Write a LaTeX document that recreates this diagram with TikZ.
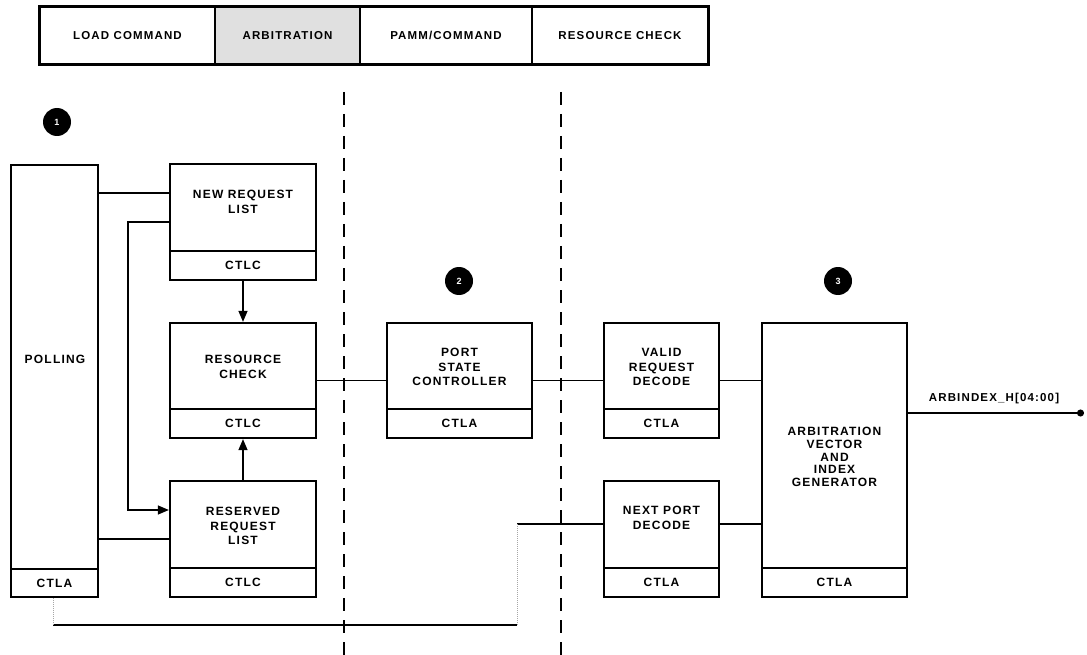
\documentclass[tikz,border=0pt]{standalone}
\usepackage{fontspec}
\setmainfont{Liberation Sans}[LetterSpace=10, UprightFont=* Bold]
\usetikzlibrary{arrows.meta,calc}
\newcommand\mkbox[6]{%
  \node[blk, minimum width={#4-#2}, minimum height={#5-#3}] (#1) at ({(#2+#4)/2},{(#3+#5)/2}) {};
  \draw[divl] (#2,#6) -- (#4,#6);
  \node[lbl] (#1ctl) at ({(#2+#4)/2},{(#6+#5)/2}) {\ctlname};}
\begin{document}
\begin{tikzpicture}[x=1pt,y=-1pt,
  blk/.style={draw, line width=2.3pt, inner sep=0pt},
  divl/.style={line width=2pt},
  lbl/.style={font=\fontsize{12}{14.5}\selectfont, align=center, inner sep=0pt},
  cell/.style={draw, line width=1.4pt, inner sep=0pt, minimum height=57, font=\fontsize{11.5}{13}\selectfont},
  wire/.style={line width=1.3pt},
  arr/.style={wire, -{Triangle[length=11pt,width=9pt]}},
  faint/.style={line width=1pt, gray!70, densely dotted},
  sep/.style={line width=2pt, dash pattern=on 13pt off 9pt},
  num/.style={circle, fill=black, minimum size=28, inner sep=0pt, text=white, font=\fontsize{9}{9}\selectfont}]
\useasboundingbox (0,0) rectangle (1087,655);

% top bar
\node[cell, minimum width=175] (c1) at (127.5,35.5) {LOAD COMMAND};
\node[cell, minimum width=145, fill=black!12] (c2) at (287.5,35.5) {ARBITRATION};
\node[cell, minimum width=172] (c3) at (446,35.5) {PAMM/COMMAND};
\node[cell, minimum width=176] (c4) at (620,35.5) {RESOURCE CHECK};
\draw[line width=2.5pt] (c1.north west) rectangle (c4.south east);

% separators
\draw[sep] (344,92) -- (344,655);
\draw[sep] (561,92) -- (561,655);

% numbers
\node[num] (n1) at (57,122) {1};
\node[num] (n2) at (459,281) {2};
\node[num] (n3) at (838,281) {3};

% boxes
\def\ctlname{CTLA}
\mkbox{poll}{11}{165}{98}{597}{569}
\def\ctlname{CTLC}
\mkbox{nrl}{170}{164}{316}{280}{251}
\mkbox{rc}{170}{323}{316}{438}{409}
\mkbox{rrl}{170}{481}{316}{597}{568}
\def\ctlname{CTLA}
\mkbox{psc}{387}{323}{532}{438}{409}
\mkbox{vrd}{604}{323}{719}{438}{409}
\mkbox{npd}{604}{481}{719}{597}{568}
\mkbox{arb}{762}{323}{907}{597}{568}

% texts
\node[lbl] (tpoll) at (55,359) {POLLING};
\node[lbl] (tnrl) at (243,202) {NEW REQUEST\\LIST};
\node[lbl] (trc) at (243,367) {RESOURCE\\CHECK};
\node[lbl] (trrl) at (243,526) {RESERVED\\REQUEST\\LIST};
\node[lbl] (tpsc) at (459.5,367) {PORT\\STATE\\CONTROLLER};
\node[lbl] (tvrd) at (661.5,367) {VALID\\REQUEST\\DECODE};
\node[lbl] (tnpd) at (661.5,518) {NEXT PORT\\DECODE};
\node[lbl, font=\fontsize{12}{12.8}\selectfont] (tarb) at (834.5,457) {ARBITRATION\\VECTOR\\AND\\INDEX\\GENERATOR};

% connectors
\coordinate (k1) at (128,222);
\coordinate (k2) at (128,510);
\draw[wire] (poll.east |- 0,193) -- (nrl.west |- 0,193);
\draw[arr] (nrl.west |- k1) -- (k1) -- (k2) -- (rrl.west |- k2);
\draw[wire] (poll.east |- 0,539) -- (rrl.west |- 0,539);
\draw[arr] (nrl.south) -- (rc.north);
\draw[arr] (rrl.north) -- (rc.south);
\draw[wire] (rc.east) -- (psc.west);
\draw[wire] (psc.east) -- (vrd.west);
\draw[wire] (vrd.east) -- (arb.west |- vrd.east);
\draw[wire] (npd.east |- 0,524) -- (arb.west |- 0,524);

\coordinate (m1) at (517,524);
\coordinate (m2) at (517,625);
\coordinate (m3) at (53,625);
\draw[wire] (npd.west |- m1) -- (m1);
\draw[faint] (m1) -- (m2);
\draw[wire] (m2) -- (m3);
\draw[faint] (m3) -- (m3 |- poll.south);

\coordinate (out) at (1084,413);
\draw[wire, -{Circle[length=7pt]}] (arb.east |- out) -- (out);
\node[lbl, font=\fontsize{11.5}{13}\selectfont] (outl) at (994,399) {ARBINDEX\_H[04:00]};
\end{tikzpicture}
\end{document}
